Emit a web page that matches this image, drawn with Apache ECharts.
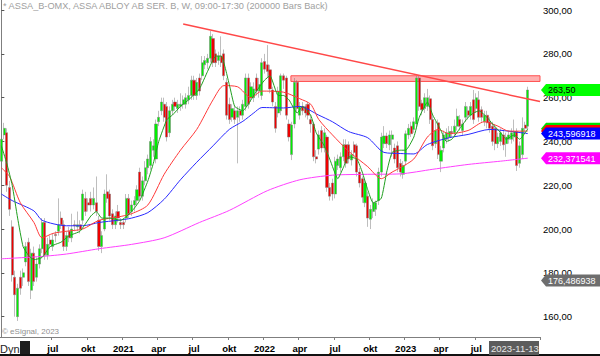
<!DOCTYPE html>
<html><head><meta charset="utf-8">
<script src="https://cdn.jsdelivr.net/npm/echarts@6/dist/echarts.min.js"></script>
<style>html,body{margin:0;padding:0;background:#fff}#c{width:600px;height:356px}</style>
</head><body><div id="c"></div>
<script>
// ---- data ----
const firstWeek = '2020-02-24';
const padWeeks = 4;
// [open, close, low, high] weekly
const candles = [
[231,241,229,243],[243,246,241,248.5],[244,220,217,246],[219,209,206,222],[201,179,176,204],
[178,170,160,181],[160,173,158,175],[178,173,170,181],[178,180,174,182],[185,192,183,194],
[194,176,174,196],[172,189,168,191],[189,176,174,192],[178,184,176,187],[184,191,182,193],
[191,203,189,205],[203,188,186,205],[188,193,186,196],[195,193,191,197],[192,195,190,198],
[197.5,197,194,199],[199,202,197,214],[205,202,200,208],[202,192,190,204],[192,197,190,199],
[199,196,194,201],[196,200,194,207],[202,201.5,199,204],[201,202,199,208],[202,200,198,204],
[204,216,202,218],[214,208,206,217],[212,211,208,214],[214,211,208,217],[211,214,209,219],
[212,208,206,224],[204,192,190,206],[192,197,189,199],[200,216,199,218],[217,214,212,225],
[216,206,204,218],[207,202,200,209],[202,206,200,208],[208,205,203,211],[203,202,200,205],
[203,202,200,204],[205,214,203,216],[214,207,205,216],[208,211,206,213],[211,213,208,215],
[213,218,211,220],[226,215,213,228],[215,222,213,224],[222,228,220,231],[228,232,225,234],
[229,240,227,242],[236,238,233,241],[232,248,230,250],[249,251,247,254],[254,258,252,260],
[257,251,249,260],[256,242,240,258],[244,254,242,256],[254,257,252,259],[258,256,254,260],
[255,257,253,259],[256,257,254,262],[257,259,255,261],[257,260,255,262],[259,261,257,265],
[261,268,259,270],[268,261,259,270],[261,267,259,269],[269,263,261,271],[270,276,268,279],
[275,277,273,279],[276,278,273,280],[278,288,276,290.5],[287,276,274,289],[280,276,274,282],
[277,279,275,281],[279,276,274,288],[280,270,268,282],[267,252,250,269],[257,250,248,260],
[251,255,249,257],[254,250,248,256],[251,254,230,256],[254,252,249,256],[252,257,250,259],
[256,269,254,271],[269,257,255,271],[260,265,258,267],[260,264,258,267],[269,263,261,271],
[263,266,260,269],[261,276,259,278],[276.5,273,271,280],[275,272,269,284],[272.7,264,262,275],
[263.5,258,256,265],[256,246,244,258],[253,263,251,265],[254,270,252,271],[270,268,264,271],
[269,252,250,270],[248,242,240,250],[234,247.5,231.5,249],[248,267,246,269],[267,255,253,268],
[252,256,250,258],[256,254,252,258],[256,253,251,257],[257,252,250,258],[250,248,244,252],
[248,233,231,249],[233,232,230,236],[236.5,243,234,245],[245,237,235,247],[237,244,235,246],
[242,219,217,243],[219,215,213,221],[221,216,213,223],[216,231,214,233],[229,232,227,234],
[228,233,226,235],[233,238.5,231,241],[238.5,230,228,241],[238.5,232,230,240],[231.5,234,229,236],
[238.5,235,233,240],[238,226,224,239],[226,221,219,228],[223,214.5,212,224],[212,221,210,223],
[215,205,201,217],[204.5,209,200,211],[208,212,205,214],[209,212,206,213],[213,226,211,228],
[226,242,224,244],[239,242.5,237,247],[242.5,239,237,244],[238.5,243,236,245],[241,243,233,245],
[237,232,230,239],[238,228,226,240],[230,226,224,232],[225,229,223,231],[231,243.5,229,245],
[243,246,241,248],[247,243.5,242,249],[245.5,249,244,251],[248,269,246,270],[269,256,254,270],
[257.5,254.5,252,259],[255,260,253,262],[256,260,254,264],[259.5,250,248,261],[250,238,236,252],
[239,245,237,249],[248.5,234,232,250],[231,236,226,238],[237,243,235,245],[241,244,239,246],
[242,244.5,240,247],[244.5,244,242,247],[244,247,242,250],[247,251.5,245,255],[250,247,245,252],
[245,248,243,250],[251,256,249,258],[254,252,250,256],[252,256,250,258],[259,250,248,263.5],
[255,260,253,262],[259,251,249,263],[254.5,251,249,256],[249,252,247,254],[252,248.5,246,254],
[249,246,244,251],[247,240,238,249],[246,239,236,248],[239,242,237,244],[240,244,238,246],
[243,238.5,236,245],[239,242,233,244],[241,243,239,245],[241,244,239,246],[242,244.5,240,250],
[244.5,229,226.5,246],[230,238,228,240],[234,246,232,251],[247.5,246,244,249],[247,263.5,245.5,265]
];
// moving averages: [week index, value]
const maGreen = [[0,238],[2,230],[4,220],[6,205],[8,192],[10,188],[12,186],[15,187],[18,192],[22,194],[25,197],[29,199],[33,206],[35,208],[37,205],[40,205],[44,204],[48,208],[51,213],[54,222],[56,230],[58,240],[61,250],[63,252],[66,256],[69,259],[73,264],[76,272],[79,279],[81,279],[84,266],[86,256],[89,254],[92,259],[94,263],[97,268],[99,270],[102,261],[104,261],[106,259],[109,253],[111,256],[114,252],[116,244],[119,238],[121,232],[124,223],[126,228],[128,233],[131,232],[133,226],[135,218],[137,212],[140,214],[142,226],[144,235],[147,236],[149,236],[152,242],[154,251],[157,258],[159,252],[162,245],[164,240],[166,241],[169,246],[172,251],[174,253],[176,254],[179,251],[181,248],[184,244],[186,241],[189,243],[191,241],[194,245.75]];
const maRed = [[0,228],[3,224],[7,212],[12,203],[15,196],[19,198],[24,199],[30,200],[36,204],[43,205.5],[48,207],[54,211],[60,225],[66,236],[72,245.5],[78,259],[82,265.5],[87,265],[92,260],[96,263],[104,262.5],[110,259.5],[114,257],[117,250],[122,243],[128,235.5],[135,228.5],[140,223],[144,226],[147,228],[152,232],[157,242],[161,245.5],[165,243.5],[172,245],[178,249],[183,247],[187,244.7],[192,244.7],[194,244.8]];
const maBlue = [[0,216],[4,213],[12,208.3],[15,204],[24,201.5],[30,201.5],[36,203],[43,204],[48,205],[54,207.5],[60,213.6],[66,222.5],[72,230.5],[78,238],[84,245.5],[89,249.2],[93,253],[96,255.5],[104,255.3],[110,256],[117,252],[122,249],[128,244.5],[135,241.7],[141,235],[147,234.5],[152,234.3],[157,238.6],[165,241.7],[172,243.2],[180,245.5],[187,244.7],[194,243.6]];
const maMagenta = [[0,186.4],[15,187.5],[24,188.6],[36,191],[48,193],[60,196],[73,203],[84,208.5],[98,217.5],[110,222.5],[122,224.6],[135,225],[147,225.2],[159,227.3],[172,229.5],[184,231],[194,232.37]];
const trendLine = [[67,293.6],[198.5,258.2]];
const resistanceBand = {x0:106.7, x1:198.5, low:267.4, high:270.0};
const yTicks = [160,180,200,220,240,260,280,300];
const valueTags = [
  {value:176.486938, text:'176,486938', bg:'#6e6e6e', fg:'#ffffff'},
  {value:232.371541, text:'232,371541', bg:'#ff00ff', fg:'#ffffff'},
  {value:245.75, text:'245,750000', bg:'#00e000', fg:'#000000'},
  {value:244.8, text:'', bg:'#ff0000', fg:'#ffffff'},
  {value:243.596918, text:'243,596918', bg:'#0000ff', fg:'#ffffff'},
  {value:263.5, text:'263,50', bg:'#00ff00', fg:'#000000'}
];
const titleText = '* ASSA_B-OMX, ASSA ABLOY AB SER. B, W, 09:00-17:30 (200000 Bars Back)';
const lastDateLabel = '2023-11-13';
const monthNames = {3:'apr', 6:'jul', 9:'okt'};

// ---- build ----
const categories = [];
const d0 = new Date(firstWeek + 'T00:00:00Z');
for (let k = 0; k < candles.length + padWeeks; k++) {
  categories.push(new Date(d0.getTime() + k * 7 * 86400000).toISOString().slice(0, 10));
}
const N = categories.length;
function isQuarterStart(idx) {
  if (idx < 10 || idx > candles.length - 8) return false;
  const m = +categories[idx].slice(5, 7) - 1;
  const pm = +categories[idx - 1].slice(5, 7) - 1;
  return m !== pm && m % 3 === 0;
}
const FONT = 'Arial, "Liberation Sans", sans-serif';
const chart = echarts.init(document.getElementById('c'), null, {renderer: 'svg'});
function ma(data, color, z, sm) {
  return {type: 'line', xAxisIndex: 1, yAxisIndex: 0, data: data, symbol: 'none', smooth: sm,
    lineStyle: {color: color, width: 1}, z: z, silent: true, animation: false};
}
chart.setOption({
  animation: false,
  backgroundColor: '#ffffff',
  grid: {left: 0, right: 60, top: 0, bottom: 19, containLabel: false},
  xAxis: [{
    type: 'category', data: categories, boundaryGap: true,
    axisLine: {show: true, lineStyle: {color: '#7f7f7f', width: 1}},
    axisTick: {show: true, length: 3, interval: (i) => isQuarterStart(i), lineStyle: {color: '#7f7f7f'}},
    axisLabel: {interval: (i) => isQuarterStart(i), margin: 6, fontSize: 9.5, fontWeight: 'bold', color: '#000', fontFamily: FONT,
      formatter: (v) => { const m = +v.slice(5, 7) - 1; return m === 0 ? v.slice(0, 4) : monthNames[m]; }},
    splitLine: {show: false}
  }, {
    type: 'value', min: -0.5, max: N - 0.5, show: false
  }],
  yAxis: [{
    type: 'value', position: 'right', min: 150.7, max: 304.6,
    axisLine: {show: true, lineStyle: {color: '#7f7f7f', width: 1}},
    axisTick: {show: true, length: 3, customValues: yTicks, lineStyle: {color: '#555'}},
    axisLabel: {customValues: yTicks, formatter: (v) => v.toFixed(2).replace('.', ','), color: '#000', fontSize: 9.5, margin: 3, fontFamily: FONT},
    splitLine: {show: false}
  }],
  series: [
    {
      type: 'candlestick', xAxisIndex: 0, yAxisIndex: 0, data: candles.map(c => [c[0], c[1], c[2], c[3]]),
      barWidth: 2.6, z: 2, silent: true,
      itemStyle: {color: '#00f000', color0: '#f00000', borderColor: '#7c7c7c', borderColor0: '#7c7c7c', borderWidth: 0.5}
    },
    ma(maMagenta, '#ff40ff', 3, 0.25),
    ma(maBlue, '#2a2aff', 3, 0.25),
    ma(maRed, '#ff3a3a', 3, 0.25),
    ma(maGreen, '#1f9f1f', 4, 0.15),
    {
      type: 'line', xAxisIndex: 1, yAxisIndex: 0, data: trendLine, symbol: 'none', z: 5, silent: true,
      lineStyle: {color: '#ff4848', width: 1.5},
      markArea: {silent: true, itemStyle: {color: '#ffb0b0', borderColor: '#ff5050', borderWidth: 1},
        data: [[{coord: [resistanceBand.x0, resistanceBand.high]}, {coord: [resistanceBand.x1, resistanceBand.low]}]]}
    }
  ]
});

// value tags on the price axis, placed through the y scale
const gridRight = chart.convertToPixel({xAxisIndex: 1}, N - 0.5);
const tagGraphics = valueTags.map((t, k) => {
  const y = chart.convertToPixel({yAxisIndex: 0}, t.value);
  const kids = [{type: 'polygon', z: 20 + k, shape: {points: [[0, 0], [5, -6], [62, -6], [62, 6], [5, 6]]}, style: {fill: t.bg}}];
  if (t.text) kids.push({type: 'text', z: 21 + k, x: 7, y: 0.5, style: {text: t.text, fill: t.fg, font: '9px ' + FONT, verticalAlign: 'middle', align: 'left'}});
  return {type: 'group', x: gridRight + 1, y: y, z: 20 + k, children: kids};
});
chart.setOption({
  graphic: [
    {type: 'text', left: 3, top: 1, z: 10, style: {text: titleText, fill: '#a0a0a0', font: '9.2px ' + FONT}},
    {type: 'text', left: 2, top: 327, z: 10, style: {text: '© eSignal, 2023', fill: '#909090', font: '8px ' + FONT}},
    {type: 'text', left: 0, top: 343, z: 10, style: {text: 'Dyn', fill: '#222', font: '11px ' + FONT}},
    {type: 'rect', left: 20, top: 341, z: 10, shape: {width: 10, height: 13}, style: {fill: '#1e1e1e'}},
    {type: 'rect', left: 489, top: 341, z: 10, shape: {width: 50, height: 14}, style: {fill: '#5c5c5c'}},
    {type: 'text', left: 491, top: 343, z: 11, style: {text: lastDateLabel, fill: '#e8e8e8', font: '9.5px ' + FONT}},
    {type: 'rect', left: 0, top: 354, z: 9, shape: {width: 600, height: 2}, style: {fill: '#111'}}
  ].concat(tagGraphics)
});
</script></body></html>
